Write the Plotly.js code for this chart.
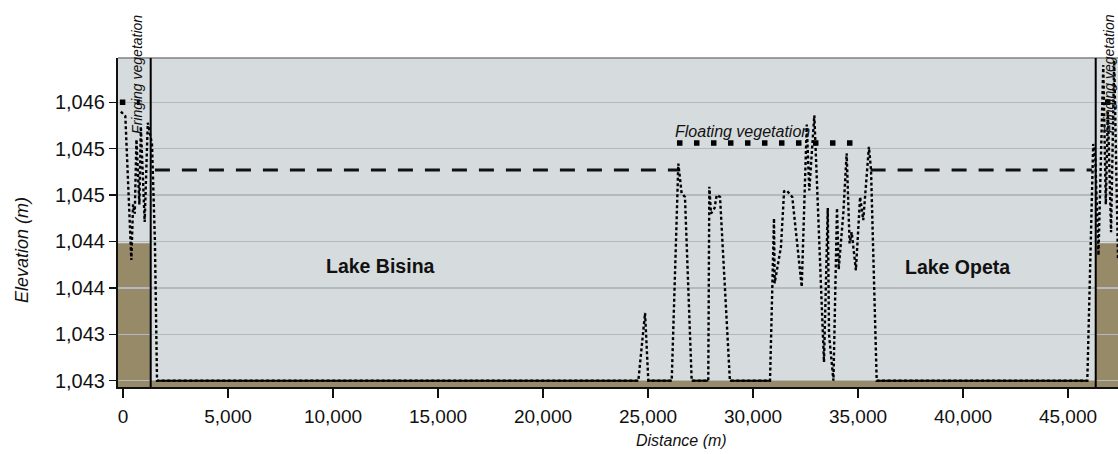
<!DOCTYPE html>
<html>
<head>
<meta charset="utf-8">
<script src="https://cdn.plot.ly/plotly-3.0.1.min.js"></script>
<style>
  html, body { margin: 0; padding: 0; background: #ffffff; }
  #chart { width: 1118px; height: 454px; }
</style>
</head>
<body>
<div id="chart"></div>
<script>
// ---- Data ----
// Ground elevation profile along the transect (distance in m, elevation in m)
const distance = [
  -100, 111, 397, 480, 560, 640, 780, 850, 1032, 1180, 1380, 1520, 1620,
  24540, 24860, 25015,
  26130, 26445, 26600, 26760, 27080,
  27870, 27920, 28000, 28170, 28270, 28430, 28900,
  30810, 30950, 31000, 31030, 31200, 31330, 31480, 31600, 31870, 32320,
  32560, 32680, 32920, 33200, 33380, 33560, 33620, 33830,
  34000, 34080, 34300, 34460, 34600, 34700, 34900, 35100, 35250, 35520, 35620, 35890,
  45920, 46200, 46300, 46450, 46560, 46680, 46800, 46900, 47050, 47200, 47381
];
const elevation = [
  1045.9, 1045.85, 1044.3, 1044.9, 1044.8, 1045.6, 1044.9, 1045.74, 1044.71, 1045.78, 1045.55, 1044.5, 1043.0,
  1043.0, 1043.73, 1043.0,
  1043.0, 1045.34, 1045.02, 1044.98, 1043.0,
  1043.0, 1045.09, 1044.8, 1044.86, 1045.0, 1044.98, 1043.0,
  1043.0, 1044.2, 1044.75, 1044.05, 1044.3, 1044.44, 1045.04, 1045.05, 1044.98, 1044.01,
  1045.76, 1045.05, 1045.86, 1044.2, 1043.2, 1044.86, 1043.5, 1043.0,
  1044.86, 1044.2, 1044.8, 1045.45, 1044.48, 1044.6, 1044.19, 1044.98, 1044.73, 1045.52, 1045.27, 1043.0,
  1043.0, 1045.55, 1045.4, 1044.35, 1045.5, 1046.4, 1044.9, 1045.9, 1044.6, 1046.45, 1044.3
];

// Water level (dashed) in both lakes
const waterX = [1520, 26430, null, 35600, 46140];
const waterY = [1045.27, 1045.27, null, 1045.27, 1045.27];

// Floating vegetation mat
const floatX = [26380, 35250];
const floatY = [1045.56, 1045.56];

// Fringing vegetation (both shores)
const fringeX = [-150, 800, null, 46760, 47381];
const fringeY = [1046.0, 1046.0, null, 1046.0, 1046.0];

// Shore banks / lake bed (brown) outline
const bankX = [-238, 1319, 1319, 46320, 46320, 47381];
const bankY = [1044.48, 1044.48, 1043.0, 1043.0, 1044.48, 1044.48];
const bedBase = 1042.9;

// Fringe boundaries (vertical lines)
const fringeEdges = [1319, 46320];

// Axis ticks
const xTicks = [0, 5000, 10000, 15000, 20000, 25000, 30000, 35000, 40000, 45000];
const yTicks = [1043, 1043.5, 1044, 1044.5, 1045, 1045.5, 1046];
const yTickText = ['1,043', '1,043', '1,044', '1,044', '1,045', '1,045', '1,046'];

// ---- Derived ----
const floorY = elevation.map(function (v, i) {
  const prev = elevation[i - 1], next = elevation[i + 1];
  return (v === 1043.0 && (prev === 1043.0 || next === 1043.0)) ? v : null;
});

let bankPath = 'M ' + bankX[0] + ',' + bankY[0];
for (let i = 1; i < bankX.length; i++) bankPath += ' L ' + bankX[i] + ',' + bankY[i];
bankPath += ' L ' + bankX[bankX.length - 1] + ',' + bedBase + ' L ' + bankX[0] + ',' + bedBase + ' Z';

const FONT = 'Liberation Sans, Arial, sans-serif';

const traces = [
  { x: waterX, y: waterY, type: 'scatter', mode: 'lines', connectgaps: false,
    line: { color: '#111111', width: 3, dash: '15px,12px' }, hoverinfo: 'skip' },
  { x: floatX, y: floatY, type: 'scatter', mode: 'lines',
    line: { color: '#000000', width: 5.5, dash: '5.5px,11.5px' }, hoverinfo: 'skip' },
  { x: fringeX, y: fringeY, type: 'scatter', mode: 'lines', connectgaps: false,
    line: { color: '#000000', width: 5.5, dash: '5.5px,11.5px' }, hoverinfo: 'skip' },
  { x: distance, y: elevation, type: 'scatter', mode: 'lines',
    line: { color: '#000000', width: 2.4, dash: '3px,2.5px' }, hoverinfo: 'skip' },
  { x: distance, y: floorY, type: 'scatter', mode: 'lines', connectgaps: false,
    line: { color: '#000000', width: 2 }, hoverinfo: 'skip' }
];

const shapes = [
  { type: 'path', path: bankPath, xref: 'x', yref: 'y', layer: 'below',
    fillcolor: '#978a69', line: { width: 0 } },
  { type: 'line', xref: 'paper', yref: 'paper', x0: 0, x1: 1, y0: 1, y1: 1,
    line: { color: '#808080', width: 1.5 } }
].concat(fringeEdges.map(function (e) {
  return { type: 'line', xref: 'x', yref: 'paper', x0: e, x1: e, y0: 0, y1: 1,
           line: { color: '#000000', width: 2 } };
}));

const plotTop = 58, plotBottom = 387, plotLeft = 118, plotW = 1000;
const annotations = [
  { text: '<b>Lake Bisina</b>', x: 12240, y: 1044.24, xref: 'x', yref: 'y', showarrow: false,
    font: { family: FONT, size: 19.5, color: '#111111' } },
  { text: '<b>Lake Opeta</b>', x: 39720, y: 1044.22, xref: 'x', yref: 'y', showarrow: false,
    font: { family: FONT, size: 19.5, color: '#111111' } },
  { text: '<i>Floating vegetation</i>', x: 29480, y: 1045.68, xref: 'x', yref: 'y', showarrow: false,
    font: { family: FONT, size: 16, color: '#111111' } },
  { text: '<i>Fringing vegetation</i>', x: 690, y: 1046.30, xref: 'x', yref: 'y', showarrow: false,
    textangle: -90, font: { family: FONT, size: 14, color: '#111111' } },
  { text: '<i>Fringing vegetation</i>', x: 46960, y: 1046.30, xref: 'x', yref: 'y', showarrow: false,
    textangle: -90, font: { family: FONT, size: 14, color: '#111111' } },
  { text: '<i>Distance (m)</i>', x: 26600, xref: 'x', yref: 'paper',
    y: -(440 - plotBottom) / (plotBottom - plotTop), showarrow: false,
    yanchor: 'middle', font: { family: FONT, size: 16, color: '#111111' } },
  { text: '<i>Elevation (m)</i>', xref: 'paper', yref: 'paper',
    x: (22 - plotLeft) / plotW, y: (plotBottom - 250) / (plotBottom - plotTop),
    xanchor: 'center', yanchor: 'middle', textangle: -90, showarrow: false,
    font: { family: FONT, size: 18, color: '#111111' } }
];

const layout = {
  width: 1118, height: 454,
  margin: { l: 118, r: 0, t: 58, b: 67, pad: 0 },
  paper_bgcolor: '#ffffff',
  plot_bgcolor: '#d6dbdd',
  showlegend: false,
  font: { family: FONT, color: '#111111' },
  xaxis: {
    range: [-238, 47381],
    tickvals: xTicks, tickformat: ',d',
    ticks: 'outside', ticklen: 9, tickwidth: 1.5, tickcolor: '#111111',
    ticklabelstandoff: 2,
    tickfont: { family: FONT, size: 19, color: '#111111' },
    showline: true, linecolor: '#111111', linewidth: 2,
    showgrid: false, zeroline: false
  },
  yaxis: {
    range: [1042.932, 1046.477],
    tickvals: yTicks, ticktext: yTickText,
    ticks: 'outside', ticklen: 7, tickwidth: 1.5, tickcolor: '#111111',
    tickfont: { family: FONT, size: 20, color: '#111111' },
    showline: true, linecolor: '#111111', linewidth: 2,
    showgrid: true, gridcolor: '#b4b9bd', gridwidth: 1.5, zeroline: false
  },
  shapes: shapes,
  annotations: annotations
};

Plotly.newPlot('chart', traces, layout, { staticPlot: true, displayModeBar: false });
</script>
</body>
</html>
